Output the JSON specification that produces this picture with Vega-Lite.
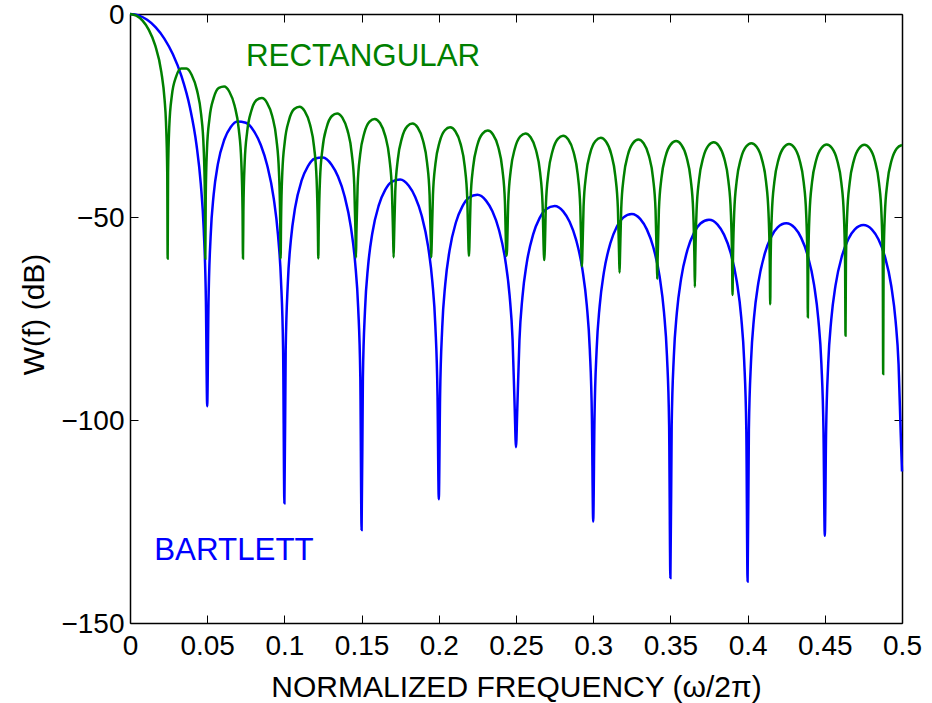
{
  "$schema": "https://vega.github.io/schema/vega-lite/v6.json",
  "width": 772,
  "height": 609,
  "autosize": {"type": "none"},
  "padding": {"left": 130, "top": 14, "right": 30, "bottom": 80},
  "background": "white",
  "config": {"view": {"stroke": null}, "font": "Liberation Sans"},
  "datasets": {
    "bart": [
      {"f":0,"db":0},{"f":0.005556,"db":-0.35},{"f":0.011111,"db":-1.43},{"f":0.016667,"db":-3.29},{"f":0.022222,"db":-6.05},{"f":0.027778,"db":-9.92},{"f":0.033333,"db":-15.31},{"f":0.038889,"db":-23.15},{"f":0.043056,"db":-32.2},{"f":0.045833,"db":-41.79},{"f":0.047778,"db":-53.29},{"f":0.049167,"db":-70.77},{"f":0.05,"db":-96.6},
      {"f":0.050833,"db":-71.32},{"f":0.052222,"db":-54.76},{"f":0.054167,"db":-44.57},{"f":0.056944,"db":-36.91},{"f":0.061111,"db":-30.91},{"f":0.065278,"db":-27.81},{"f":0.069444,"db":-26.46},{"f":0.075,"db":-26.77},{"f":0.080556,"db":-29.01},{"f":0.084722,"db":-32.28},{"f":0.088889,"db":-37.32},{"f":0.093056,"db":-45.35},{"f":0.095833,"db":-54.37},{"f":0.097778,"db":-65.5},{"f":0.099167,"db":-82.74},{"f":0.1,"db":-120.5},
      {"f":0.100833,"db":-83.02},{"f":0.102222,"db":-66.25},{"f":0.104167,"db":-55.78},{"f":0.106944,"db":-47.7},{"f":0.111111,"db":-41.07},{"f":0.115278,"db":-37.47},{"f":0.119444,"db":-35.66},{"f":0.125,"db":-35.36},{"f":0.130556,"db":-37.13},{"f":0.134722,"db":-40.04},{"f":0.138889,"db":-44.75},{"f":0.143056,"db":-52.5},{"f":0.145833,"db":-61.33},{"f":0.147778,"db":-72.33},{"f":0.149167,"db":-89.48},{"f":0.15,"db":-127.1},
      {"f":0.150833,"db":-89.66},{"f":0.152222,"db":-72.81},{"f":0.154167,"db":-62.23},{"f":0.156944,"db":-53.99},{"f":0.161111,"db":-47.14},{"f":0.165278,"db":-43.33},{"f":0.169444,"db":-41.33},{"f":0.175,"db":-40.77},{"f":0.180556,"db":-42.32},{"f":0.184722,"db":-45.06},{"f":0.188889,"db":-49.62},{"f":0.193056,"db":-57.23},{"f":0.195833,"db":-65.96},{"f":0.197778,"db":-76.9},{"f":0.199167,"db":-93.99},{"f":0.2,"db":-119.5},
      {"f":0.200833,"db":-94.12},{"f":0.202222,"db":-77.23},{"f":0.204167,"db":-66.59},{"f":0.206944,"db":-58.27},{"f":0.211111,"db":-51.29},{"f":0.215278,"db":-47.37},{"f":0.219444,"db":-45.25},{"f":0.225,"db":-44.54},{"f":0.230556,"db":-45.96},{"f":0.234722,"db":-48.61},{"f":0.238889,"db":-53.07},{"f":0.243056,"db":-60.59},{"f":0.245833,"db":-69.26},{"f":0.247778,"db":-80.16},{"f":0.249167,"db":-97.22},{"f":0.25,"db":-106.7},
      {"f":0.250833,"db":-97.32},{"f":0.252222,"db":-80.4},{"f":0.254167,"db":-69.72},{"f":0.256944,"db":-61.35},{"f":0.261111,"db":-54.28},{"f":0.265278,"db":-50.28},{"f":0.269444,"db":-48.09},{"f":0.275,"db":-47.28},{"f":0.280556,"db":-48.61},{"f":0.284722,"db":-51.19},{"f":0.288889,"db":-55.58},{"f":0.293056,"db":-63.03},{"f":0.295833,"db":-71.67},{"f":0.297778,"db":-82.53},{"f":0.299167,"db":-99.58},{"f":0.3,"db":-125.0},
      {"f":0.300833,"db":-99.64},{"f":0.302222,"db":-82.7},{"f":0.304167,"db":-72.0},{"f":0.306944,"db":-63.58},{"f":0.311111,"db":-56.46},{"f":0.315278,"db":-52.4},{"f":0.319444,"db":-50.16},{"f":0.325,"db":-49.27},{"f":0.330556,"db":-50.53},{"f":0.334722,"db":-53.05},{"f":0.338889,"db":-57.39},{"f":0.343056,"db":-64.79},{"f":0.345833,"db":-73.4},{"f":0.347778,"db":-84.23},{"f":0.349167,"db":-101.26},{"f":0.35,"db":-138.9},
      {"f":0.350833,"db":-101.31},{"f":0.352222,"db":-84.36},{"f":0.354167,"db":-73.63},{"f":0.356944,"db":-65.18},{"f":0.361111,"db":-58.01},{"f":0.365278,"db":-53.9},{"f":0.369444,"db":-51.61},{"f":0.375,"db":-50.67},{"f":0.380556,"db":-51.86},{"f":0.384722,"db":-54.34},{"f":0.388889,"db":-58.64},{"f":0.393056,"db":-66.0},{"f":0.395833,"db":-74.57},{"f":0.397778,"db":-85.39},{"f":0.399167,"db":-102.4},{"f":0.4,"db":-139.8},
      {"f":0.400833,"db":-102.43},{"f":0.402222,"db":-85.47},{"f":0.404167,"db":-74.72},{"f":0.406944,"db":-66.25},{"f":0.411111,"db":-59.03},{"f":0.415278,"db":-54.89},{"f":0.419444,"db":-52.56},{"f":0.425,"db":-51.56},{"f":0.430556,"db":-52.7},{"f":0.434722,"db":-55.14},{"f":0.438889,"db":-59.4},{"f":0.443056,"db":-66.72},{"f":0.445833,"db":-75.26},{"f":0.447778,"db":-86.06},{"f":0.449167,"db":-103.07},{"f":0.45,"db":-128.5},
      {"f":0.450833,"db":-103.08},{"f":0.452222,"db":-86.1},{"f":0.454167,"db":-75.34},{"f":0.456944,"db":-66.84},{"f":0.461111,"db":-59.59},{"f":0.465278,"db":-55.41},{"f":0.469444,"db":-53.04},{"f":0.475,"db":-51.99},{"f":0.480556,"db":-53.09},{"f":0.484722,"db":-55.49},{"f":0.488889,"db":-59.71},{"f":0.493056,"db":-67.0},{"f":0.495833,"db":-75.52},{"f":0.497778,"db":-86.3},{"f":0.499167,"db":-103.29},{"f":0.5,"db":-112.7}
    ],
    "rect": [
      {"f":0,"db":0},{"f":0.004065,"db":-0.4},{"f":0.00813,"db":-1.65},{"f":0.012195,"db":-3.92},{"f":0.01626,"db":-7.67},{"f":0.020325,"db":-14.37},{"f":0.022358,"db":-20.92},{"f":0.023306,"db":-26.67},{"f":0.024119,"db":-38.98},{"f":0.02439,"db":-60.2},
      {"f":0.024661,"db":-39.16},{"f":0.025474,"db":-27.41},{"f":0.0271,"db":-20.11},{"f":0.02981,"db":-15.49},{"f":0.033198,"db":-13.42},{"f":0.036585,"db":-13.45},{"f":0.039973,"db":-15.04},{"f":0.04336,"db":-18.75},{"f":0.04607,"db":-24.74},{"f":0.047696,"db":-32.86},{"f":0.048509,"db":-45.02},{"f":0.04878,"db":-60.2},
      {"f":0.049051,"db":-45.12},{"f":0.049864,"db":-33.24},{"f":0.05149,"db":-25.7},{"f":0.0542,"db":-20.67},{"f":0.057588,"db":-18.2},{"f":0.060976,"db":-17.85},{"f":0.064363,"db":-19.15},{"f":0.067751,"db":-22.59},{"f":0.070461,"db":-28.4},{"f":0.072086,"db":-36.41},{"f":0.072899,"db":-48.52},{"f":0.073171,"db":-60.2},
      {"f":0.073442,"db":-48.58},{"f":0.074255,"db":-36.66},{"f":0.075881,"db":-29.02},{"f":0.078591,"db":-23.83},{"f":0.081979,"db":-21.21},{"f":0.085366,"db":-20.72},{"f":0.088754,"db":-21.88},{"f":0.092141,"db":-25.19},{"f":0.094851,"db":-30.92},{"f":0.096477,"db":-38.88},{"f":0.09729,"db":-50.96},{"f":0.097561,"db":-60.2},
      {"f":0.097832,"db":-51.01},{"f":0.098645,"db":-39.07},{"f":0.100271,"db":-31.39},{"f":0.102981,"db":-26.13},{"f":0.106369,"db":-23.41},{"f":0.109756,"db":-22.84},{"f":0.113144,"db":-23.93},{"f":0.116531,"db":-27.16},{"f":0.119241,"db":-32.84},{"f":0.120867,"db":-40.76},{"f":0.12168,"db":-52.83},{"f":0.121951,"db":-60.2},
      {"f":0.122222,"db":-52.87},{"f":0.123035,"db":-40.91},{"f":0.124661,"db":-33.2},{"f":0.127371,"db":-27.9},{"f":0.130759,"db":-25.12},{"f":0.134146,"db":-24.49},{"f":0.137534,"db":-25.54},{"f":0.140921,"db":-28.72},{"f":0.143631,"db":-34.36},{"f":0.145257,"db":-42.27},{"f":0.14607,"db":-54.32},{"f":0.146341,"db":-60.0},
      {"f":0.146612,"db":-54.35},{"f":0.147425,"db":-42.39},{"f":0.149051,"db":-34.66},{"f":0.151761,"db":-29.32},{"f":0.155149,"db":-26.51},{"f":0.158537,"db":-25.84},{"f":0.161924,"db":-26.85},{"f":0.165311,"db":-30.01},{"f":0.168021,"db":-35.62},{"f":0.169647,"db":-43.5},{"f":0.17046,"db":-55.55},{"f":0.170732,"db":-59.9},
      {"f":0.171003,"db":-55.58},{"f":0.171816,"db":-43.6},{"f":0.173442,"db":-35.86},{"f":0.176152,"db":-30.5},{"f":0.17954,"db":-27.66},{"f":0.182927,"db":-26.96},{"f":0.186315,"db":-27.95},{"f":0.189702,"db":-31.08},{"f":0.192412,"db":-36.66},{"f":0.194038,"db":-44.54},{"f":0.194851,"db":-56.58},{"f":0.195122,"db":-59.9},
      {"f":0.195393,"db":-56.6},{"f":0.196206,"db":-44.62},{"f":0.197832,"db":-36.88},{"f":0.200542,"db":-31.5},{"f":0.20393,"db":-28.63},{"f":0.207317,"db":-27.91},{"f":0.210705,"db":-28.88},{"f":0.214092,"db":-31.98},{"f":0.216802,"db":-37.56},{"f":0.218428,"db":-45.42},{"f":0.219241,"db":-57.46},{"f":0.219512,"db":-59.6},
      {"f":0.219783,"db":-57.48},{"f":0.220596,"db":-45.49},{"f":0.222222,"db":-37.73},{"f":0.224932,"db":-32.34},{"f":0.22832,"db":-29.46},{"f":0.231707,"db":-28.72},{"f":0.235095,"db":-29.67},{"f":0.238482,"db":-32.76},{"f":0.241192,"db":-38.32},{"f":0.242818,"db":-46.17},{"f":0.243631,"db":-58.21},{"f":0.243902,"db":-59.6},
      {"f":0.244173,"db":-58.22},{"f":0.244986,"db":-46.24},{"f":0.246612,"db":-38.47},{"f":0.249322,"db":-33.06},{"f":0.25271,"db":-30.17},{"f":0.256098,"db":-29.41},{"f":0.259485,"db":-30.35},{"f":0.262873,"db":-33.42},{"f":0.265583,"db":-38.97},{"f":0.267209,"db":-46.82},{"f":0.268022,"db":-58.85},{"f":0.268293,"db":-60.6},
      {"f":0.268564,"db":-58.86},{"f":0.269377,"db":-46.87},{"f":0.271003,"db":-39.1},{"f":0.273713,"db":-33.68},{"f":0.2771,"db":-30.77},{"f":0.280488,"db":-30.0},{"f":0.283875,"db":-30.93},{"f":0.287263,"db":-33.99},{"f":0.289973,"db":-39.53},{"f":0.291599,"db":-47.37},{"f":0.292412,"db":-59.4},{"f":0.292683,"db":-62.2},
      {"f":0.292954,"db":-59.41},{"f":0.293767,"db":-47.42},{"f":0.295393,"db":-39.64},{"f":0.298103,"db":-34.21},{"f":0.301491,"db":-31.29},{"f":0.304878,"db":-30.51},{"f":0.308266,"db":-31.42},{"f":0.311653,"db":-34.48},{"f":0.314363,"db":-40.01},{"f":0.315989,"db":-47.85},{"f":0.316802,"db":-59.87},{"f":0.317073,"db":-63.7},
      {"f":0.317344,"db":-59.88},{"f":0.318157,"db":-47.88},{"f":0.319783,"db":-40.1},{"f":0.322493,"db":-34.67},{"f":0.325881,"db":-31.74},{"f":0.329268,"db":-30.94},{"f":0.332656,"db":-31.85},{"f":0.336043,"db":-34.89},{"f":0.338753,"db":-40.41},{"f":0.340379,"db":-48.24},{"f":0.341192,"db":-60.27},{"f":0.341463,"db":-65.3},
      {"f":0.341734,"db":-60.28},{"f":0.342547,"db":-48.28},{"f":0.344173,"db":-40.49},{"f":0.346883,"db":-35.05},{"f":0.350271,"db":-32.11},{"f":0.353659,"db":-31.3},{"f":0.357046,"db":-32.2},{"f":0.360434,"db":-35.23},{"f":0.363144,"db":-40.75},{"f":0.36477,"db":-48.58},{"f":0.365583,"db":-60.6},{"f":0.365854,"db":-67.2},
      {"f":0.366125,"db":-60.6},{"f":0.366938,"db":-48.6},{"f":0.368564,"db":-40.81},{"f":0.371274,"db":-35.36},{"f":0.374661,"db":-32.41},{"f":0.378049,"db":-31.6},{"f":0.381437,"db":-32.49},{"f":0.384824,"db":-35.51},{"f":0.387534,"db":-41.02},{"f":0.38916,"db":-48.85},{"f":0.389973,"db":-60.87},{"f":0.390244,"db":-69.2},
      {"f":0.390515,"db":-60.87},{"f":0.391328,"db":-48.87},{"f":0.392954,"db":-41.07},{"f":0.395664,"db":-35.62},{"f":0.399051,"db":-32.66},{"f":0.402439,"db":-31.84},{"f":0.405827,"db":-32.72},{"f":0.409214,"db":-35.74},{"f":0.411924,"db":-41.24},{"f":0.41355,"db":-49.06},{"f":0.414363,"db":-61.08},{"f":0.414634,"db":-71.5},
      {"f":0.414905,"db":-61.08},{"f":0.415718,"db":-49.08},{"f":0.417344,"db":-41.28},{"f":0.420054,"db":-35.82},{"f":0.423442,"db":-32.85},{"f":0.426829,"db":-32.02},{"f":0.430217,"db":-32.89},{"f":0.433604,"db":-35.9},{"f":0.436314,"db":-41.4},{"f":0.43794,"db":-49.22},{"f":0.438753,"db":-61.23},{"f":0.439024,"db":-74.7},
      {"f":0.439295,"db":-61.24},{"f":0.440108,"db":-49.23},{"f":0.441734,"db":-41.43},{"f":0.444444,"db":-35.96},{"f":0.447832,"db":-32.99},{"f":0.45122,"db":-32.15},{"f":0.454607,"db":-33.02},{"f":0.457995,"db":-36.02},{"f":0.460705,"db":-41.51},{"f":0.462331,"db":-49.32},{"f":0.463144,"db":-61.34},{"f":0.463415,"db":-79.2},
      {"f":0.463686,"db":-61.34},{"f":0.464499,"db":-49.33},{"f":0.466125,"db":-41.53},{"f":0.468835,"db":-36.05},{"f":0.472222,"db":-33.07},{"f":0.47561,"db":-32.23},{"f":0.478998,"db":-33.09},{"f":0.482385,"db":-36.08},{"f":0.485095,"db":-41.57},{"f":0.486721,"db":-49.38},{"f":0.487534,"db":-61.39},{"f":0.487805,"db":-88.7},
      {"f":0.488076,"db":-61.39},{"f":0.488889,"db":-49.38},{"f":0.490515,"db":-41.57},{"f":0.493225,"db":-36.09},{"f":0.496613,"db":-33.1},{"f":0.5,"db":-32.26}
    ],
    "labels": [
      {"f":0.0751,"db":-10.5,"label":"RECTANGULAR"},
      {"f":0.0157,"db":-132.3,"label":"BARTLETT"}
    ]
  },
  "layer": [
    {
      "data": {"name": "bart"},
      "mark": {"type": "line", "color": "#0000ff", "strokeWidth": 2.5, "interpolate": "monotone", "clip": false},
      "encoding": {
        "x": {"field": "f", "type": "quantitative", "scale": {"domain": [0, 0.5], "nice": false, "zero": false},
          "axis": {"orient": "bottom", "values": [0,0.05,0.1,0.15,0.2,0.25,0.3,0.35,0.4,0.45,0.5], "format": "~g", "grid": false,
            "tickSize": -8, "tickColor": "black", "tickWidth": 1, "domainColor": "black", "domainWidth": 1.5,
            "labelFont": "Liberation Sans", "labelFontSize": 28, "labelColor": "black", "labelPadding": 17, "labelFlush": false, "labelOverlap": false,
            "title": "NORMALIZED FREQUENCY (ω/2π)", "titleFont": "Liberation Sans", "titleFontSize": 30, "titleFontWeight": "normal", "titleColor": "black",
            "titleX": 386, "titleY": 64.5, "titleBaseline": "middle", "titleAlign": "center"}},
        "y": {"field": "db", "type": "quantitative", "scale": {"domain": [-150, 0], "nice": false, "zero": false},
          "axis": {"orient": "left", "values": [-150,-100,-50,0],
            "labelExpr": "datum.value < 0 ? '−' + format(-datum.value, 'd') : format(datum.value, 'd')", "grid": false,
            "tickSize": -8, "tickColor": "black", "tickWidth": 1, "domainColor": "black", "domainWidth": 1.5,
            "labelFont": "Liberation Sans", "labelFontSize": 28, "labelColor": "black", "labelPadding": 14, "labelFlush": false, "labelOverlap": false, "labelOffset": 1.5,
            "title": "W(f) (dB)", "titleFont": "Liberation Sans", "titleFontSize": 30, "titleFontWeight": "normal", "titleColor": "black",
            "titleX": -95.3, "titleY": 300, "titleAngle": 270, "titleBaseline": "middle", "titleAlign": "center"}}
      }
    },
    {
      "data": {"name": "rect"},
      "mark": {"type": "line", "color": "#008000", "strokeWidth": 2.5, "interpolate": "monotone", "clip": false},
      "encoding": {
        "x": {"field": "f", "type": "quantitative", "axis": null},
        "y": {"field": "db", "type": "quantitative", "axis": null}
      }
    },
    {
      "data": {"name": "labels"},
      "mark": {"type": "text", "align": "left", "baseline": "middle", "fontSize": 31.3, "font": "Liberation Sans"},
      "encoding": {
        "x": {"field": "f", "type": "quantitative",
          "axis": {"orient": "top", "values": [0,0.05,0.1,0.15,0.2,0.25,0.3,0.35,0.4,0.45,0.5], "labels": false, "title": null, "grid": false,
            "tickSize": -8, "tickColor": "black", "tickWidth": 1, "domainColor": "black", "domainWidth": 1.5}},
        "y": {"field": "db", "type": "quantitative",
          "axis": {"orient": "right", "values": [-150,-100,-50,0], "labels": false, "title": null, "grid": false,
            "tickSize": -8, "tickColor": "black", "tickWidth": 1, "domainColor": "black", "domainWidth": 1.5}},
        "text": {"field": "label"},
        "color": {"field": "label", "type": "nominal", "scale": {"domain": ["RECTANGULAR", "BARTLETT"], "range": ["#008000", "#0000ff"]}, "legend": null}
      }
    }
  ],
  "resolve": {"axis": {"x": "independent", "y": "independent"}}
}
